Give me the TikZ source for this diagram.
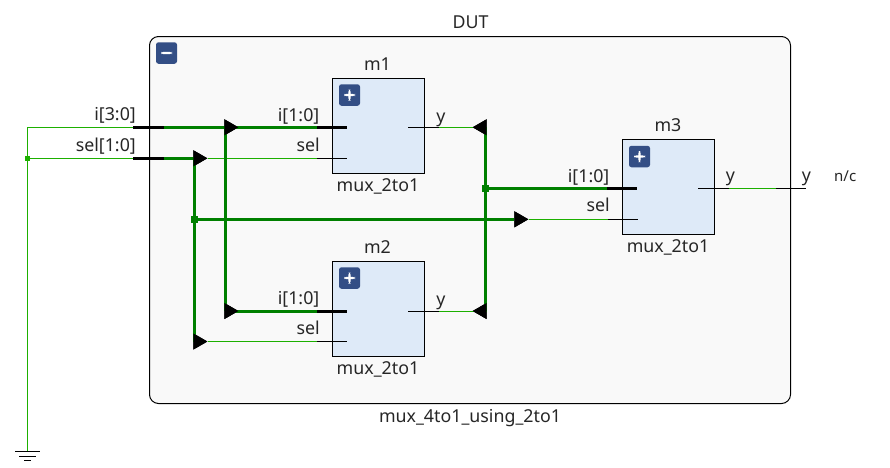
\documentclass[tikz,border=0pt]{standalone}
\usepackage{fontspec}
\setmainfont{Noto Sans}
\usetikzlibrary{shapes.geometric}
\definecolor{framefill}{HTML}{F9F9F9}
\definecolor{blockfill}{HTML}{DEEAF8}
\definecolor{btnblue}{HTML}{334E85}
\definecolor{busgreen}{HTML}{008000}
\definecolor{netgreen}{HTML}{1DB000}
\tikzset{
  lbl/.style={inner sep=0pt,font=\fontsize{17.8}{20}\selectfont,text=black!85},
  block/.style={draw=black,line width=1pt,fill=blockfill,minimum width=92pt,minimum height=95.5pt,inner sep=0pt},
  btn/.style={fill=btnblue,rounded corners=2.5pt,minimum width=21pt,minimum height=21.5pt,inner sep=0pt,text=white},
  bus/.style={busgreen,line width=3pt},
  net/.style={netgreen,line width=1pt},
  stub/.style={black,line width=3pt},
  pin/.style={black,line width=1pt},
  head/.style={isosceles triangle,isosceles triangle apex angle=60,fill=black,inner sep=0pt,minimum width=14pt,minimum height=14pt},
  joint/.style={fill=#1,inner sep=0pt,minimum size=7pt}
}
\newcommand{\plusmark}{\tikz[x=1pt,y=1pt]{\fill[white] (-5.5,-1.2) rectangle (5.5,1.2) (-1.2,-5.5) rectangle (1.2,5.5);}}
\newcommand{\minusmark}{\tikz[x=1pt,y=1pt]{\fill[white] (-5.5,-1.2) rectangle (5.5,1.2);}}
\begin{document}
\begin{tikzpicture}[x=1pt,y=1pt]
\useasboundingbox (0,0) rectangle (890,-467);
% frame
\node [draw=black,line width=1pt,fill=framefill,rounded corners=9pt,minimum width=641pt,minimum height=367pt,inner sep=0pt] (dut) at (470,-220) {};
\node [lbl,anchor=base] (dutname) at (470.5,-28) {DUT};
\node [lbl,anchor=base] (dutmod) at (470,-422) {mux\_4to1\_using\_2to1};
\node [btn] (dutbtn) at (166.5,-53) {\minusmark};
% blocks
\node [block] (m1) at (378.3,-126) {};
\node [block] (m2) at (378.3,-309) {};
\node [block] (m3) at (668.5,-186.8) {};
\node [btn] at (349.5,-95) (m1btn) {\plusmark};
\node [btn] at (349.5,-278) (m2btn) {\plusmark};
\node [btn] at (639.5,-156.5) (m3btn) {\plusmark};
\node [lbl,anchor=base] (m1name) at (377.5,-70) {m1};
\node [lbl,anchor=base] (m2name) at (377.5,-253) {m2};
\node [lbl,anchor=base] (m3name) at (668,-131) {m3};
\node [lbl,anchor=base] (m1mod) at (378,-191) {mux\_2to1};
\node [lbl,anchor=base] (m2mod) at (378,-374) {mux\_2to1};
\node [lbl,anchor=base] (m3mod) at (668,-252.5) {mux\_2to1};
% points on the wires
\coordinate (gnd) at (27.5,-451);
\coordinate (itop) at (27.5,-127.3);
\coordinate (iport) at (133,-127.3);
\coordinate (iportb) at (164,-127.3);
\coordinate (selport) at (133,-158.3);
\coordinate (selportb) at (164,-158.3);
\coordinate (m1i) at (347,-127.3);
\coordinate (m1ib) at (317,-127.3);
\coordinate (m1s) at (347,-158.3);
\coordinate (m1sb) at (317,-158.3);
\coordinate (m1y) at (408,-127.3);
\coordinate (m1yb) at (439,-127.3);
\coordinate (m2i) at (347,-311);
\coordinate (m2ib) at (317,-311);
\coordinate (m2s) at (347,-341.5);
\coordinate (m2sb) at (317,-341.5);
\coordinate (m2y) at (408,-311);
\coordinate (m2yb) at (439,-311);
\coordinate (m3i) at (637,-188);
\coordinate (m3ib) at (607,-188);
\coordinate (m3s) at (638,-219.3);
\coordinate (m3sb) at (608,-219.3);
\coordinate (m3y) at (698,-188);
\coordinate (m3yb) at (729,-188);
\coordinate (yport) at (776,-188);
\coordinate (yend) at (806,-188);
% junctions and arrow heads
\node [head] (hi) at (229,-127.3) {};
\node [head] (hsel) at (198,-158.3) {};
\node [head] (hi2) at (229,-311) {};
\node [head] (hsel2) at (198,-341.5) {};
\node [head] (hsel3) at (519,-219.3) {};
\node [head,shape border rotate=180] (hy1) at (482,-127.3) {};
\node [head,shape border rotate=180] (hy2) at (482,-311) {};
\coordinate (vi) at (225.7,-127.3);
\coordinate (vi2) at (225.7,-311);
\coordinate (vs) at (194.5,-158.3);
\coordinate (vs2) at (194.5,-341.5);
\coordinate (vy1) at (485.3,-127.3);
\coordinate (vy2) at (485.3,-311);
% thin nets
\draw [net] (selport) -- (27.5,-158.3) coordinate (selleft);
\draw [net] (iport) -- (itop) -- (gnd);
\draw [net] (hsel.east) -- (m1sb);
\draw [net] (hsel2.east) -- (m2sb);
\draw [net] (m1yb) -- (hy1.east);
\draw [net] (m2yb) -- (hy2.east);
\draw [net] (hsel3.east) -- (m3sb);
\draw [net] (m3yb) -- (yport);
% buses
\draw [bus] (iportb) -- (m1ib);
\draw [bus] (selportb) -- (vs);
\draw [bus] (vi) -- (vi2);
\draw [bus] (vs) -- (vs2);
\draw [bus] (vi2) -- (m2ib);
\draw [bus] (vy1) -- (vy2);
\coordinate (jy) at (485.3,-188);
\coordinate (js) at (194.5,-219.3);
\draw [bus] (jy) -- (m3ib);
\draw [bus] (js) -- (hsel3.west);
% black ends
\draw [stub] (iport) -- (iportb);
\draw [stub] (selport) -- (selportb);
\draw [stub] (m1ib) -- (m1i);
\draw [stub] (m2ib) -- (m2i);
\draw [stub] (m3ib) -- (m3i);
\draw [pin] (m1sb) -- (m1s);
\draw [pin] (m2sb) -- (m2s);
\draw [pin] (m3sb) -- (m3s);
\draw [pin] (m1y) -- (m1yb);
\draw [pin] (m2y) -- (m2yb);
\draw [pin] (m3y) -- (m3yb);
\draw [pin] (yport) -- (yend);
% redraw heads over the wires
\node [head] at (hi) {};
\node [head] at (hsel) {};
\node [head] at (hi2) {};
\node [head] at (hsel2) {};
\node [head] at (hsel3) {};
\node [head,shape border rotate=180] at (hy1) {};
\node [head,shape border rotate=180] at (hy2) {};
\node [joint=netgreen,minimum size=5pt] (jleft) at (selleft) {};
\node [joint=busgreen] (jsel) at (js) {};
\node [joint=busgreen] (jout) at (jy) {};
% ground
\draw [pin] (15,-451) -- (40,-451);
\draw [pin] (19,-456) -- (36,-456);
\draw [pin] (24,-460.5) -- (31,-460.5);
% port labels
\node [lbl,anchor=base east] (li) at (136,-120.5) {i[3:0]};
\node [lbl,anchor=base east] (lsel) at (136,-151) {sel[1:0]};
\node [lbl,anchor=base east] (lm1i) at (319.5,-121) {i[1:0]};
\node [lbl,anchor=base east] (lm1s) at (320,-151) {sel};
\node [lbl,anchor=base] (lm1y) at (441,-122) {y};
\node [lbl,anchor=base east] (lm2i) at (319.5,-304) {i[1:0]};
\node [lbl,anchor=base east] (lm2s) at (320,-334) {sel};
\node [lbl,anchor=base] (lm2y) at (441,-305) {y};
\node [lbl,anchor=base east] (lm3i) at (609.5,-182.5) {i[1:0]};
\node [lbl,anchor=base east] (lm3s) at (610,-211.5) {sel};
\node [lbl,anchor=base] (lm3y) at (730.5,-181.5) {y};
\node [lbl,anchor=base] (ly) at (806.5,-181.5) {y};
\node [lbl,anchor=base west,font=\fontsize{15}{17}\selectfont] (lnc) at (834,-181.5) {n/c};
\end{tikzpicture}
\end{document}
